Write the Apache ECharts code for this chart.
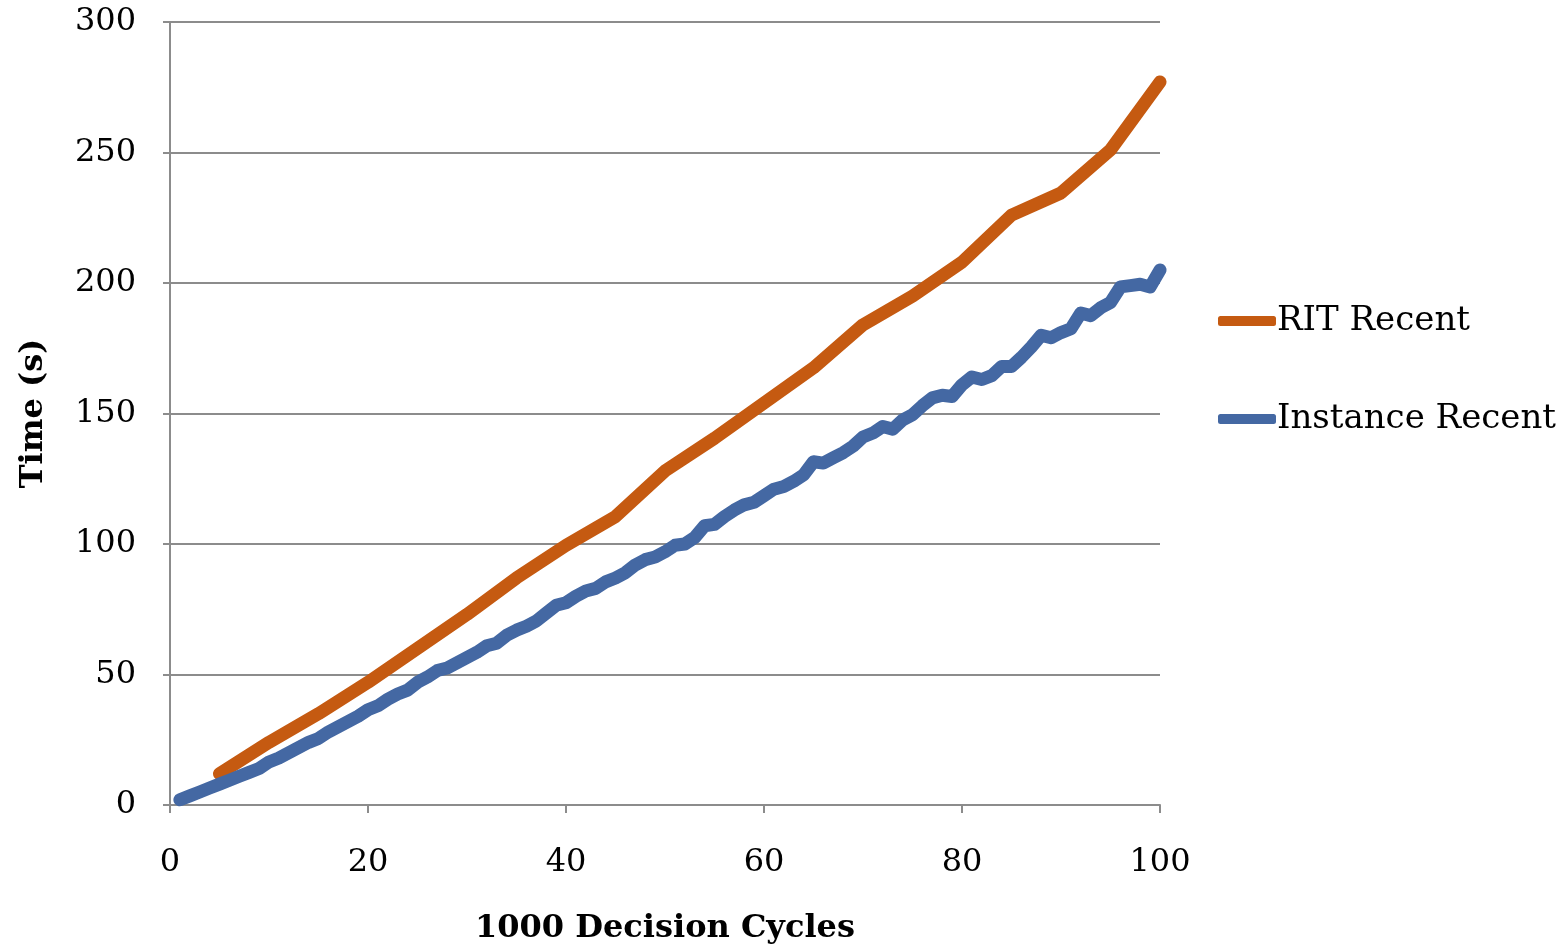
<!DOCTYPE html>
<html><head><meta charset="utf-8">
<script src="https://cdn.jsdelivr.net/npm/echarts@6/dist/echarts.min.js"></script>
<style>html,body{margin:0;padding:0;background:#fff}#c{width:1564px;height:951px}</style>
</head><body><div id="c"></div>
<script>
const ritX = [5,10,15,20,25,30,35,40,45,50,55,60,65,70,75,80,85,90,95,100];
const ritY = [12,24,35,47,60,73,87,99.5,110.5,128,140.5,154,167.5,184,195,208,226,234.5,251,277];
const instX = [];
for (let i = 1; i <= 100; i++) instX.push(i);
const instY = [2,3.5,5,6.5,8,9.5,11,12.5,14,16.5,
  18,20,22,24,25.5,28,30,32,34,36.5,
  38,40.5,42.5,44,47,49,51.5,52.5,54.5,56.5,
  58.5,61,62,65,67,68.5,70.5,73.5,76.5,77.5,
  80,82,83,85.5,87,89,92,94,95,97,
  99.5,100,102.5,107,107.5,110.5,113,115,116,118.5,
  121,122,124,126.5,131.5,131,133,135,137.5,141,
  142.5,145,144,147.5,149.5,153,156,157,156.5,161,
  164,163,164.5,168,168,171.5,175.5,180,179,181,
  182.5,188.5,187.5,190.5,192.5,198.5,199,199.5,198.5,205];
const seriesNames = ['RIT Recent','Instance Recent'];
const xTicks = [0,20,40,60,80,100];
const yTicks = [0,50,100,150,200,250,300];

const font = 'DejaVu Serif';
const chart = echarts.init(document.getElementById('c'), null, {renderer:'canvas'});
chart.setOption({
  animation:false,
  backgroundColor:'#fff',
  grid:{left:170, right:404, top:22, bottom:146, containLabel:false, outerBoundsMode:'none'},
  legend:{
    orient:'vertical', left:1213, top:296, itemGap:58, padding:5,
    icon:'roundRect', itemWidth:58, itemHeight:10,
    textStyle:{fontFamily:font, fontSize:34, lineHeight:40, color:'#000', padding:[0,0,0,-4]},
    data:seriesNames
  },
  xAxis:{
    type:'value', min:0, max:100, interval:20,
    name:'1000 Decision Cycles', nameLocation:'middle', nameGap:108,
    nameTextStyle:{fontFamily:font, fontSize:32, fontWeight:'bold', color:'#000'},
    axisLine:{show:true, lineStyle:{color:'#8c8c8c', width:2}},
    axisTick:{show:true, length:8, lineStyle:{color:'#8c8c8c', width:2}},
    axisLabel:{fontFamily:font, fontSize:32, color:'#000', margin:42},
    splitLine:{show:false}
  },
  yAxis:{
    type:'value', min:0, max:300, interval:50,
    name:'Time (s)', nameLocation:'middle', nameGap:120, nameRotate:90,
    nameTextStyle:{fontFamily:font, fontSize:32, fontWeight:'bold', color:'#000'},
    axisLine:{show:true, lineStyle:{color:'#8c8c8c', width:2}},
    axisTick:{show:true, length:7, lineStyle:{color:'#8c8c8c', width:2}},
    axisLabel:{fontFamily:font, fontSize:32, color:'#000', margin:34},
    splitLine:{show:true, lineStyle:{color:'#8c8c8c', width:2}}
  },
  series:[
    {name:seriesNames[0], type:'line', data:ritX.map((x,i)=>[x,ritY[i]]),
     symbol:'none', color:'#C55A11',
     lineStyle:{width:13, color:'#C55A11', cap:'round', join:'round'}},
    {name:seriesNames[1], type:'line', data:instX.map((x,i)=>[x,instY[i]]),
     symbol:'none', color:'#4468A3',
     lineStyle:{width:13, color:'#4468A3', cap:'round', join:'round'}}
  ]
});
</script></body></html>
